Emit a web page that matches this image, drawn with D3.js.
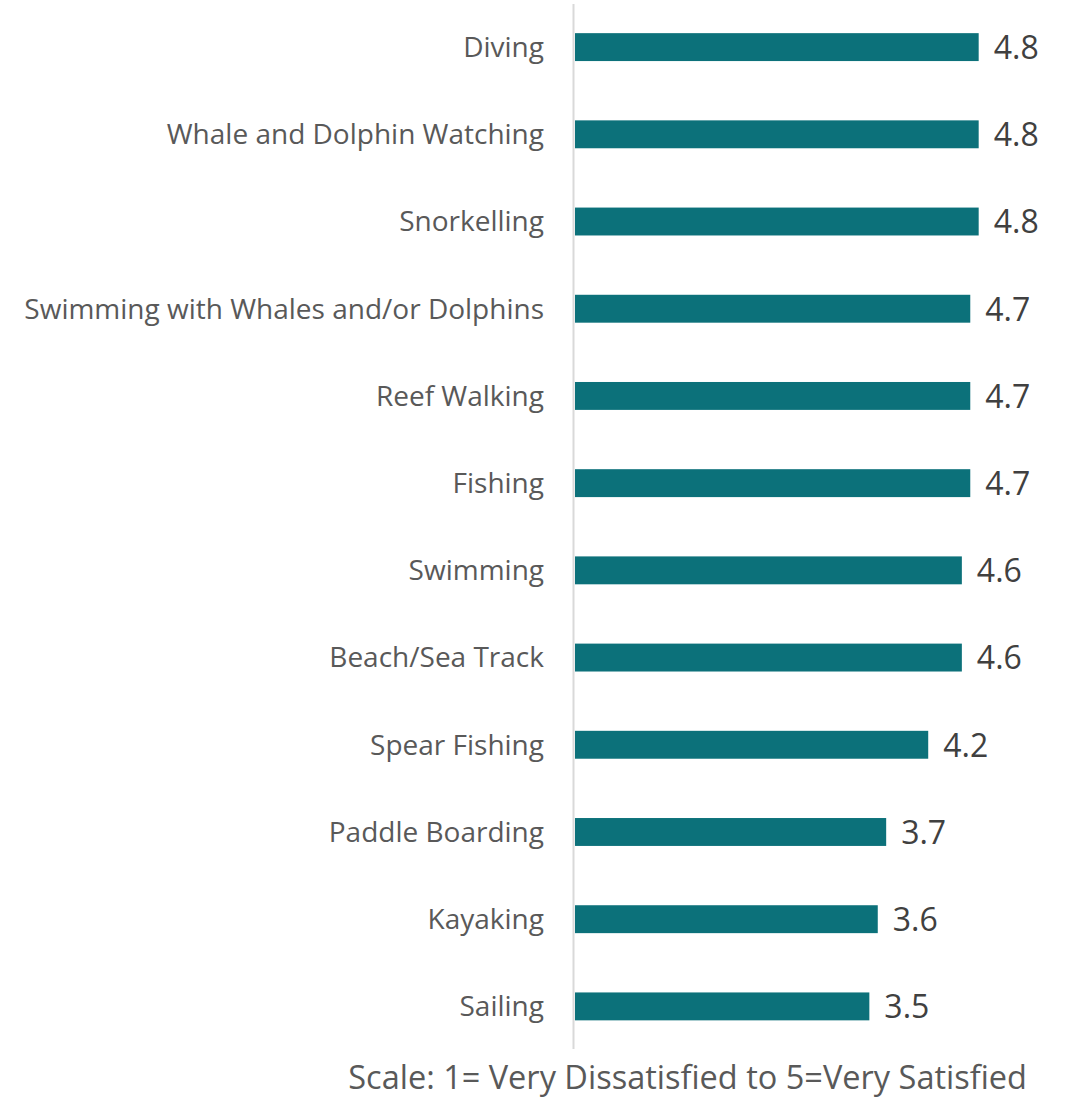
<!DOCTYPE html>
<html>
<head>
<meta charset="utf-8">
<script src="https://cdn.jsdelivr.net/npm/d3@7"></script>
<style>
  html, body { margin: 0; padding: 0; background: #ffffff; }
  svg { display: block; }
</style>
</head>
<body>
<svg id="chart" width="1068" height="1099"></svg>
<script>
// Satisfaction with water activities (mean score, 1-5 scale)
const activities = [
  "Diving",
  "Whale and Dolphin Watching",
  "Snorkelling",
  "Swimming with Whales and/or Dolphins",
  "Reef Walking",
  "Fishing",
  "Swimming",
  "Beach/Sea Track",
  "Spear Fishing",
  "Paddle Boarding",
  "Kayaking",
  "Sailing"
];
const scores = [4.8, 4.8, 4.8, 4.7, 4.7, 4.7, 4.6, 4.6, 4.2, 3.7, 3.6, 3.5];
const scaleNote = "Scale: 1= Very Dissatisfied to 5=Very Satisfied";

const data = activities.map((name, i) => ({ name, score: scores[i] }));

const svg = d3.select("#chart");
const fontFamily = "'Open Sans', 'Noto Sans', sans-serif";

const x = d3.scaleLinear().domain([0, 5]).range([575, 995.5]);
const y = d3.scaleBand()
  .domain(activities)
  .range([3.5, 1050])
  .paddingInner(0.68)
  .paddingOuter(0.34);

// vertical category axis line
svg.append("line")
  .attr("x1", 573.5).attr("x2", 573.5)
  .attr("y1", 4).attr("y2", 1049)
  .attr("stroke", "#d9d9d9")
  .attr("stroke-width", 2);

// bars
svg.append("g").selectAll("rect")
  .data(data)
  .join("rect")
  .attr("x", x(0))
  .attr("y", d => y(d.name))
  .attr("width", d => x(d.score) - x(0))
  .attr("height", y.bandwidth())
  .attr("fill", "#0c717a");

// category labels
svg.append("g").selectAll("text")
  .data(data)
  .join("text")
  .attr("x", 544)
  .attr("y", d => y(d.name) + y.bandwidth() / 2)
  .attr("dy", "0.35em")
  .attr("text-anchor", "end")
  .attr("font-family", fontFamily)
  .attr("font-size", 28)
  .attr("fill", "#595959")
  .text(d => d.name);

// value labels
svg.append("g").selectAll("text")
  .data(data)
  .join("text")
  .attr("x", d => x(d.score) + 15)
  .attr("y", d => y(d.name) + y.bandwidth() / 2)
  .attr("dy", "0.37em")
  .attr("font-family", fontFamily)
  .attr("font-size", 32)
  .attr("fill", "#404040")
  .text(d => d.score.toFixed(1));

// scale note
svg.append("text")
  .attr("x", 1027)
  .attr("y", 1089)
  .attr("text-anchor", "end")
  .attr("font-family", fontFamily)
  .attr("font-size", 32.5)
  .attr("fill", "#595959")
  .text(scaleNote);
</script>
</body>
</html>
